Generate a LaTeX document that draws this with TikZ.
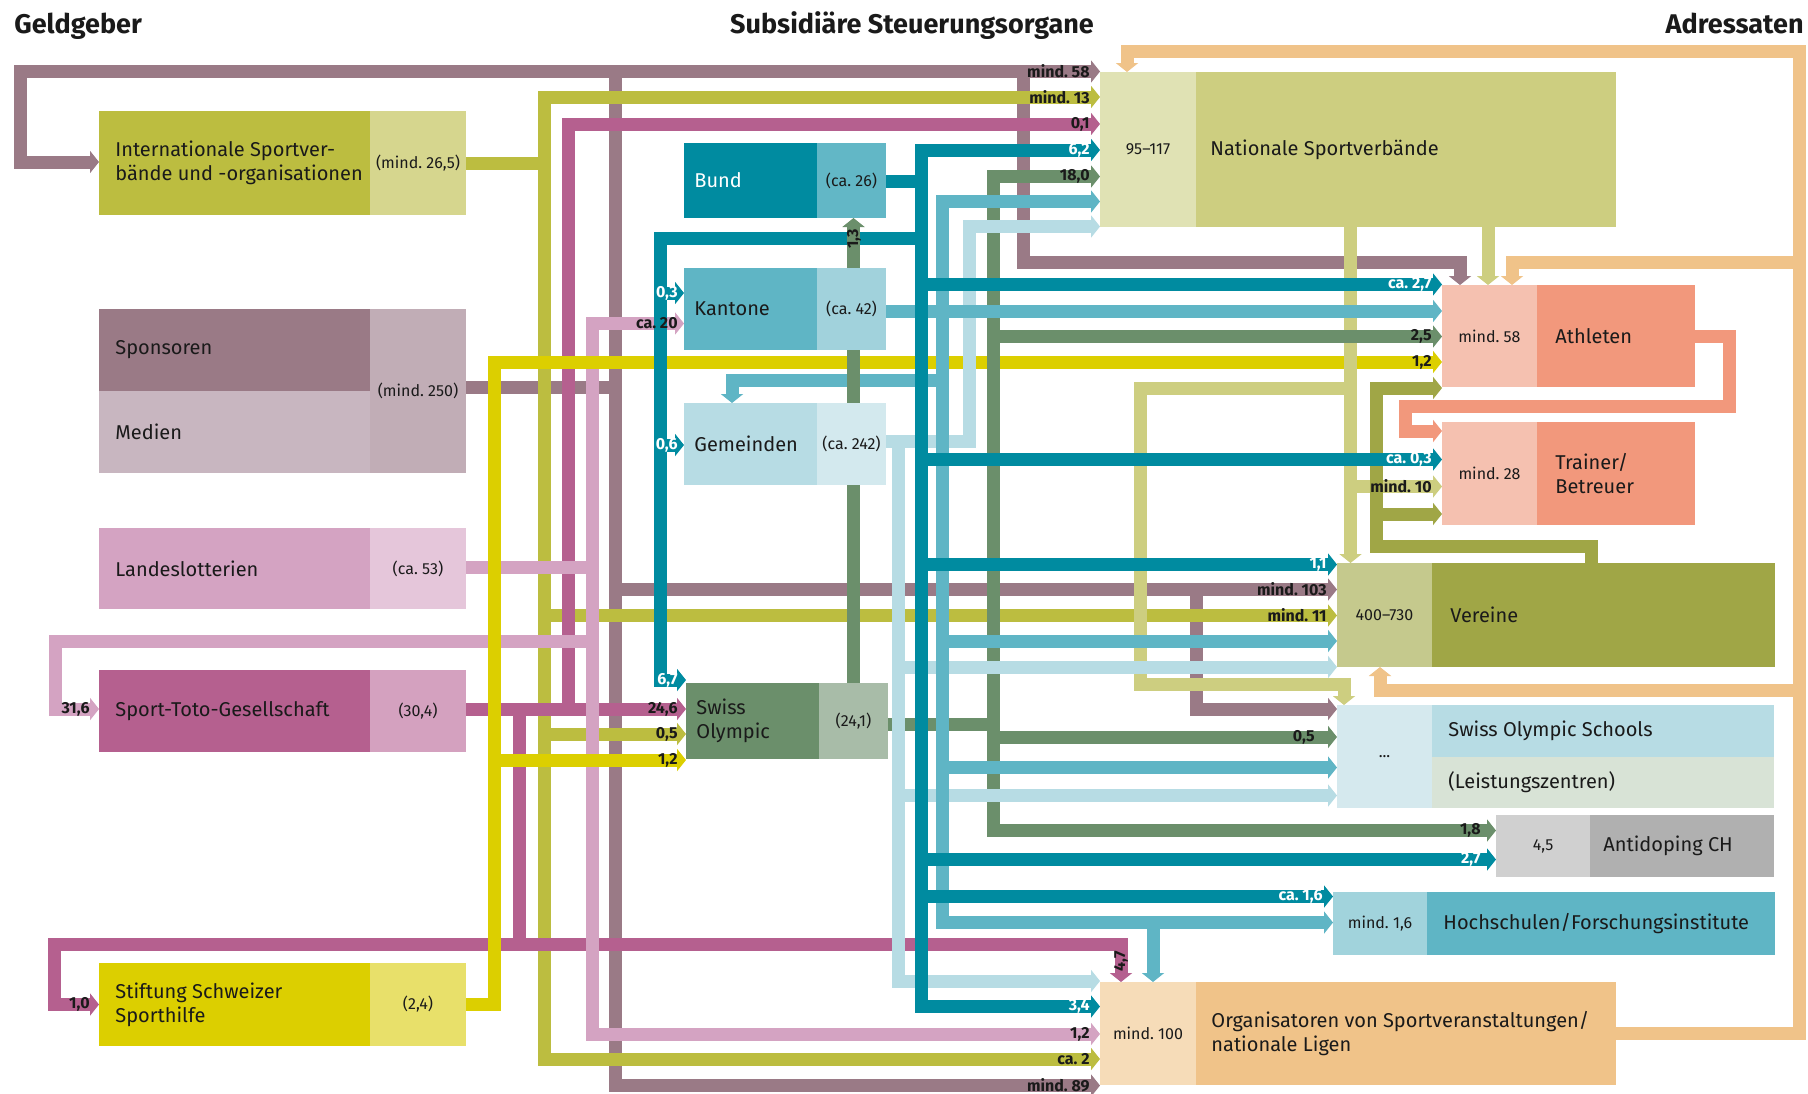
\documentclass[tikz,border=0pt]{standalone}
\usepackage{fontspec}
\setmainfont{Fira Sans}
\usetikzlibrary{arrows.meta}

\definecolor{txt}{HTML}{1A1A1A}
\definecolor{spoD}{HTML}{9A7A86}
\definecolor{medD}{HTML}{C8B6C0}
\definecolor{spoL}{HTML}{C1ADB6}
\definecolor{intD}{HTML}{BCBD40}
\definecolor{intL}{HTML}{D6D68E}
\definecolor{totoD}{HTML}{B5608F}
\definecolor{totoL}{HTML}{D4A1BF}
\definecolor{lotD}{HTML}{D4A3C2}
\definecolor{lotL}{HTML}{E5C6DA}
\definecolor{shD}{HTML}{DCCF00}
\definecolor{shL}{HTML}{E8E06A}
\definecolor{bundD}{HTML}{008BA0}
\definecolor{bundL}{HTML}{62B7C6}
\definecolor{kanD}{HTML}{5FB5C5}
\definecolor{kanL}{HTML}{A1D2DC}
\definecolor{gemD}{HTML}{B7DCE4}
\definecolor{gemL}{HTML}{D3E9EE}
\definecolor{soD}{HTML}{6B8F6B}
\definecolor{soL}{HTML}{A8BCA8}
\definecolor{nsvD}{HTML}{CDCE80}
\definecolor{nsvL}{HTML}{E0E2B4}
\definecolor{athD}{HTML}{F2987C}
\definecolor{athL}{HTML}{F5C1B0}
\definecolor{verD}{HTML}{A0A646}
\definecolor{verL}{HTML}{C5C98D}
\definecolor{sosL}{HTML}{D5E9EE}
\definecolor{sosA}{HTML}{B7DCE4}
\definecolor{sosB}{HTML}{D8E3D6}
\definecolor{adL}{HTML}{D0D0D0}
\definecolor{adD}{HTML}{B0B0B0}
\definecolor{hsL}{HTML}{A1D3DC}
\definecolor{hsD}{HTML}{5FB5C5}
\definecolor{orgL}{HTML}{F6DCB8}
\definecolor{orgD}{HTML}{F0C389}

\pgfdeclarelayer{lines}
\pgfsetlayers{lines,main}

\tikzset{
  band/.style={line width=6.5pt},
  flow/.style={band, -{Triangle[length=4.5pt, width=11pt]}},
  box/.style={anchor=north west, inner sep=0pt, outer sep=0pt},
  val/.style={font=\fontsize{8}{9}\selectfont, text=txt},
  btxt/.style={anchor=west, align=left, inner sep=0pt, font=\fontsize{10}{12}\selectfont, text=txt},
  amt/.style={anchor=east, inner sep=0pt, font=\bfseries\fontsize{8}{9}\selectfont, text=txt},
  amtw/.style={amt, text=white},
  head/.style={inner sep=0pt, font=\bfseries\fontsize{13.5}{15}\selectfont, text=txt},
}

\begin{document}
\begin{tikzpicture}[x=0.5pt, y=-0.5pt]
    \useasboundingbox (0,0) rectangle (1808,1093);

    % column heads
    \node[head, anchor=base west] (hGeld) at (14,33) {Geldgeber};
    \node[head, anchor=base] (hSub) at (912,33) {Subsidiäre Steuerungsorgane};
    \node[head, anchor=base east] (hAdr) at (1804,33) {Adressaten};

    % Geldgeber
    \node[box, fill=intD, minimum width=135.5pt, minimum height=52pt] (int) at (99,111) {};
    \node[box, fill=intL, minimum width=48pt, minimum height=52pt, val] (intV) at (370,111) {(mind.~26,5)};
    \node[btxt] (intT) at ([xshift=8pt]int.west) {Internationale Sportver-\\bände und -organisationen};

    \node[box, fill=spoD, minimum width=135.5pt, minimum height=41pt] (spo) at (99,309) {};
    \node[box, fill=medD, minimum width=135.5pt, minimum height=41pt] (med) at (99,391) {};
    \node[box, fill=spoL, minimum width=48pt, minimum height=82pt, val] (spoV) at (370,309) {(mind.~250)};
    \node[btxt] (spoT) at ([xshift=8pt]spo.west) {Sponsoren};
    \node[btxt] (medT) at ([xshift=8pt]med.west) {Medien};

    \node[box, fill=lotD, minimum width=135.5pt, minimum height=40.5pt] (lot) at (99,528) {};
    \node[box, fill=lotL, minimum width=48pt, minimum height=40.5pt, val] (lotV) at (370,528) {(ca.~53)};
    \node[btxt] (lotT) at ([xshift=8pt]lot.west) {Landeslotterien};

    \node[box, fill=totoD, minimum width=135.5pt, minimum height=41pt] (toto) at (99,670) {};
    \node[box, fill=totoL, minimum width=48pt, minimum height=41pt, val] (totoV) at (370,670) {(30,4)};
    \node[btxt] (totoT) at ([xshift=8pt]toto.west) {Sport-Toto-Gesellschaft};

    \node[box, fill=shD, minimum width=135.5pt, minimum height=41.5pt] (sth) at (99,963) {};
    \node[box, fill=shL, minimum width=48pt, minimum height=41.5pt, val] (sthV) at (370,963) {(2,4)};
    \node[btxt] (sthT) at ([xshift=8pt]sth.west) {Stiftung Schweizer\\Sporthilfe};

    % Subsidiaere Steuerungsorgane
    \node[box, fill=bundD, minimum width=66.5pt, minimum height=37.5pt] (bund) at (684,143) {};
    \node[box, fill=bundL, minimum width=34.5pt, minimum height=37.5pt, val] (bundV) at (817,143) {(ca.~26)};
    \node[btxt, text=white] (bundT) at ([xshift=5pt]bund.west) {Bund};

    \node[box, fill=kanD, minimum width=66.5pt, minimum height=41pt] (kan) at (684,268) {};
    \node[box, fill=kanL, minimum width=34.5pt, minimum height=41pt, val] (kanV) at (817,268) {(ca.~42)};
    \node[btxt] (kanT) at ([xshift=5pt]kan.west) {Kantone};

    \node[box, fill=gemD, minimum width=66.5pt, minimum height=41pt] (gem) at (684,403) {};
    \node[box, fill=gemL, minimum width=34.5pt, minimum height=41pt, val] (gemV) at (817,403) {(ca.~242)};
    \node[btxt] (gemT) at ([xshift=5pt]gem.west) {Gemeinden};

    \node[box, fill=soD, minimum width=66.5pt, minimum height=38pt] (so) at (686,683) {};
    \node[box, fill=soL, minimum width=34.5pt, minimum height=38pt, val] (soV) at (819,683) {(24,1)};
    \node[btxt] (soT) at ([xshift=5pt]so.west) {Swiss\\Olympic};

    % Adressaten
    \node[box, fill=nsvL, minimum width=48pt, minimum height=77.5pt, val] (nsvV) at (1100,72) {95–117};
    \node[box, fill=nsvD, minimum width=210pt, minimum height=77.5pt] (nsv) at (1196,72) {};
    \node[btxt] (nsvT) at ([xshift=7pt]nsv.west) {Nationale Sportverbände};

    \node[box, fill=athL, minimum width=47.5pt, minimum height=51pt, val] (athV) at (1442,285) {mind.~58};
    \node[box, fill=athD, minimum width=79pt, minimum height=51pt] (ath) at (1537,285) {};
    \node[btxt] (athT) at ([xshift=9pt]ath.west) {Athleten};

    \node[box, fill=athL, minimum width=47.5pt, minimum height=51.5pt, val] (traV) at (1442,422) {mind.~28};
    \node[box, fill=athD, minimum width=79pt, minimum height=51.5pt] (tra) at (1537,422) {};
    \node[btxt] (traT) at ([xshift=9pt]tra.west) {Trainer/\\Betreuer};

    \node[box, fill=verL, minimum width=47.5pt, minimum height=52pt, val] (verV) at (1337,563) {400–730};
    \node[box, fill=verD, minimum width=171.5pt, minimum height=52pt] (ver) at (1432,563) {};
    \node[btxt] (verT) at ([xshift=9pt]ver.west) {Vereine};

    \node[box, fill=sosL, minimum width=47.5pt, minimum height=51.5pt, val] (sosV) at (1337,705) {...};
    \node[box, fill=sosA, minimum width=171pt, minimum height=26pt] (sos) at (1432,705) {};
    \node[box, fill=sosB, minimum width=171pt, minimum height=25.5pt] (lz) at (1432,757) {};
    \node[btxt] (sosT) at ([xshift=8pt]sos.west) {Swiss Olympic Schools};
    \node[btxt] (lzT) at ([xshift=8pt]lz.west) {(Leistungszentren)};

    \node[box, fill=adL, minimum width=47pt, minimum height=31pt, val] (adV) at (1496,815) {4,5};
    \node[box, fill=adD, minimum width=92pt, minimum height=31pt] (ad) at (1590,815) {};
    \node[btxt] (adT) at ([xshift=6.5pt]ad.west) {Antidoping CH};

    \node[box, fill=hsL, minimum width=47pt, minimum height=31.5pt, val] (hsV) at (1333,892) {mind.~1,6};
    \node[box, fill=hsD, minimum width=174pt, minimum height=31.5pt] (hs) at (1427,892) {};
    \node[btxt] (hsT) at ([xshift=8pt]hs.west) {Hochschulen/Forschungsinstitute};

    \node[box, fill=orgL, minimum width=48pt, minimum height=51.5pt, val] (orgV) at (1100,982) {mind.~100};
    \node[box, fill=orgD, minimum width=210pt, minimum height=51.5pt] (org) at (1196,982) {};
    \node[btxt] (orgT) at ([xshift=7.5pt]org.west) {Organisatoren von Sportveranstaltungen/\\nationale Ligen};

    \begin{pgfonlayer}{lines}
    \fill[white] (0,0) rectangle (1808,1093);
    % Sponsoren / Medien
    \draw[band, spoD] (spoV.east |- 0,387.5) -- (615,387.5);
    \draw[flow, spoD] (615,387.5) -- (615,71.5) -- (nsvV.west |- 0,71.5);
    \draw[flow, spoD] (615,71.5) -- (20.5,71.5) -- (20.5,162) -- (int.west |- 0,162);
    \draw[flow, spoD] (615,387.5) -- (615,1085.5) -- (orgV.west |- 0,1085.5);
    \draw[flow, spoD] (615,589.5) -- (verV.west |- 0,589.5);
    \draw[flow, spoD] (1023,71.5) -- (1023,262.5) -- (1460,262.5) -- (athV.north -| 1460,0);
    \draw[flow, spoD] (1196.5,589.5) -- (1196.5,709) -- (sosV.west |- 0,709);
    % internationale Verbaende
    \draw[band, intD] (intV.east |- 0,163.5) -- (544,163.5);
    \draw[flow, intD] (544,163.5) -- (544,97) -- (nsvV.west |- 0,97);
    \draw[flow, intD] (544,163.5) -- (544,1059) -- (orgV.west |- 0,1059);
    \draw[flow, intD] (544,615.5) -- (verV.west |- 0,615.5);
    \draw[flow, intD] (544,734) -- (so.west |- 0,734);
    % Sport-Toto
    \draw[flow, totoD] (totoV.east |- 0,709) -- (so.west |- 0,709);
    \draw[flow, totoD] (568.5,709) -- (568.5,124) -- (nsvV.west |- 0,124);
    \draw[flow, totoD] (519.5,709) -- (519.5,944) -- (54.5,944) -- (54.5,1004.5) -- (sth.west |- 0,1004.5);
    \draw[flow, totoD] (519.5,944) -- (1121,944) -- (orgV.north -| 1121,0);
    % Landeslotterien
    \draw[band, lotD] (lotV.east |- 0,567.5) -- (592.5,567.5);
    \draw[flow, lotD] (592.5,567.5) -- (592.5,323.5) -- (kan.west |- 0,323.5);
    \draw[flow, lotD] (592.5,567.5) -- (592.5,1034) -- (orgV.west |- 0,1034);
    \draw[flow, lotD] (592.5,641) -- (55,641) -- (55,709) -- (toto.west |- 0,709);
    % Sporthilfe
    \draw[flow, shD] (sthV.east |- 0,1004.5) -- (494,1004.5) -- (494,362) -- (athV.west |- 0,362);
    \draw[flow, shD] (494,760) -- (so.west |- 0,760);
    % Organisatoren
    \draw[flow, orgD] (org.east |- 0,1033.5) -- (1799.5,1033.5) -- (1799.5,51.5) -- (1127,51.5) -- (nsvV.north -| 1127,0);
    \draw[flow, orgD] (1799.5,262.5) -- (1512,262.5) -- (athV.north -| 1512,0);
    \draw[flow, orgD] (1799.5,690) -- (1380,690) -- (verV.south -| 1380,0);
    % Nationale Sportverbaende
    \draw[flow, nsvD] (nsv.south -| 1350.5,0) -- (verV.north -| 1350.5,0);
    \draw[flow, nsvD] (1350.5,486.5) -- (traV.west |- 0,486.5);
    \draw[flow, nsvD] (1350.5,388) -- (1140,388) -- (1140,684.5) -- (1344,684.5) -- (sosV.north -| 1344,0);
    \draw[flow, nsvD] (nsv.south -| 1488,0) -- (athV.north -| 1488,0);
    % Vereine
    \draw[flow, verD] (ver.north -| 1591,0) -- (1591,546) -- (1376,546) -- (1376,388) -- (athV.west |- 0,388);
    \draw[flow, verD] (1376,514) -- (traV.west |- 0,514);
    % Athleten
    \draw[flow, athD] (ath.east |- 0,336.5) -- (1729.5,336.5) -- (1729.5,406.5) -- (1405,406.5) -- (1405,431) -- (traV.west |- 0,431);
    % Swiss Olympic
    \draw[band, soD] (soV.east |- 0,724) -- (993.5,724);
    \draw[flow, soD] (993.5,724) -- (993.5,176.5) -- (nsvV.west |- 0,176.5);
    \draw[flow, soD] (993.5,724) -- (993.5,830.5) -- (adV.west |- 0,830.5);
    \draw[flow, soD] (993.5,336.5) -- (athV.west |- 0,336.5);
    \draw[flow, soD] (993.5,737) -- (sosV.west |- 0,737);
    % Gemeinden
    \draw[flow, gemD] (gemV.east |- 0,441) -- (969,441) -- (969,226.5) -- (nsvV.west |- 0,226.5);
    \draw[flow, gemD] (898.5,441) -- (898.5,981) -- (orgV.west |- 0,981);
    \draw[flow, gemD] (898.5,667) -- (verV.west |- 0,667);
    \draw[flow, gemD] (898.5,795.5) -- (sosV.west |- 0,795.5);
    % Kantone
    \draw[flow, kanD] (kanV.east |- 0,311) -- (athV.west |- 0,311);
    \draw[flow, kanD] (942,311) -- (942,201.5) -- (nsvV.west |- 0,201.5);
    \draw[flow, kanD] (942,311) -- (942,380.5) -- (732,380.5) -- (gem.north -| 732,0);
    \draw[flow, kanD] (942,311) -- (942,922.5) -- (hsV.west |- 0,922.5);
    \draw[flow, kanD] (942,641) -- (verV.west |- 0,641);
    \draw[flow, kanD] (942,767.5) -- (sosV.west |- 0,767.5);
    \draw[flow, kanD] (1153,922.5) -- (orgV.north -| 1153,0);
    % Bund
    \draw[band, bundD] (bundV.east |- 0,181) -- (921,181);
    \draw[flow, bundD] (921,181) -- (921,150) -- (nsvV.west |- 0,150);
    \draw[flow, bundD] (921,181) -- (921,1006.5) -- (orgV.west |- 0,1006.5);
    \draw[flow, bundD] (921,238.5) -- (660,238.5) -- (660,680) -- (so.west |- 0,680);
    \draw[flow, bundD] (660,293) -- (kan.west |- 0,293);
    \draw[flow, bundD] (660,445) -- (gem.west |- 0,445);
    \draw[flow, bundD] (921,284.5) -- (athV.west |- 0,284.5);
    \draw[flow, bundD] (921,459.5) -- (traV.west |- 0,459.5);
    \draw[flow, bundD] (921,564.5) -- (verV.west |- 0,564.5);
    \draw[flow, bundD] (921,859.5) -- (adV.west |- 0,859.5);
    \draw[flow, bundD] (921,896.5) -- (hsV.west |- 0,896.5);
    % Swiss Olympic -> Bund
    \draw[flow, soD] (soV.north -| 853.5,0) -- (bundV.south -| 853.5,0);
    \end{pgfonlayer}

    % amounts
    \node[amt] (aN1) at (1090,71.5) {mind.~58};
    \node[amt] (aN2) at (1090,97) {mind.~13};
    \node[amt] (aN3) at (1090,124) {0,1};
    \node[amtw] (aN4) at (1090,150) {6,2};
    \node[amt] (aN5) at (1090,176.5) {18,0};
    \node[amtw] (aA1) at (1432,284.5) {ca.~2,7};
    \node[amt] (aA2) at (1432,336.5) {2,5};
    \node[amt] (aA3) at (1432,362) {1,2};
    \node[amtw] (aT1) at (1432,459.5) {ca.~0,3};
    \node[amt] (aT2) at (1432,486.5) {mind.~10};
    \node[amtw] (aV1) at (1327,564.5) {1,1};
    \node[amt] (aV2) at (1327,589.5) {mind.~103};
    \node[amt] (aV3) at (1327,615.5) {mind.~11};
    \node[amt] (aS1) at (1315,737) {0,5};
    \node[amt] (aD1) at (1481,830.5) {1,8};
    \node[amtw] (aD2) at (1481,859.5) {2,7};
    \node[amtw] (aH1) at (1323,896.5) {ca.~1,6};
    \node[amtw] (aO1) at (1090,1006.5) {3,4};
    \node[amt] (aO2) at (1090,1034) {1,2};
    \node[amt] (aO3) at (1090,1059) {ca.~2};
    \node[amt] (aO4) at (1090,1085.5) {mind.~89};
    \node[amt, anchor=center, rotate=90] (aO5) at (1121,961) {4,7};
    \node[amt, anchor=center, rotate=90] (aB1) at (854,239) {1,3};
    \node[amtw] (aK1) at (678,293) {0,3};
    \node[amt] (aK2) at (678,323.5) {ca.~20};
    \node[amtw] (aG1) at (678,445) {0,6};
    \node[amtw] (aS2) at (678,680) {6,7};
    \node[amt] (aS3) at (678,709) {24,6};
    \node[amt] (aS4) at (678,734) {0,5};
    \node[amt] (aS5) at (678,760) {1,2};
    \node[amt] (aL1) at (90,709) {31,6};
    \node[amt] (aL2) at (90,1004.5) {1,0};
\end{tikzpicture}
\end{document}
